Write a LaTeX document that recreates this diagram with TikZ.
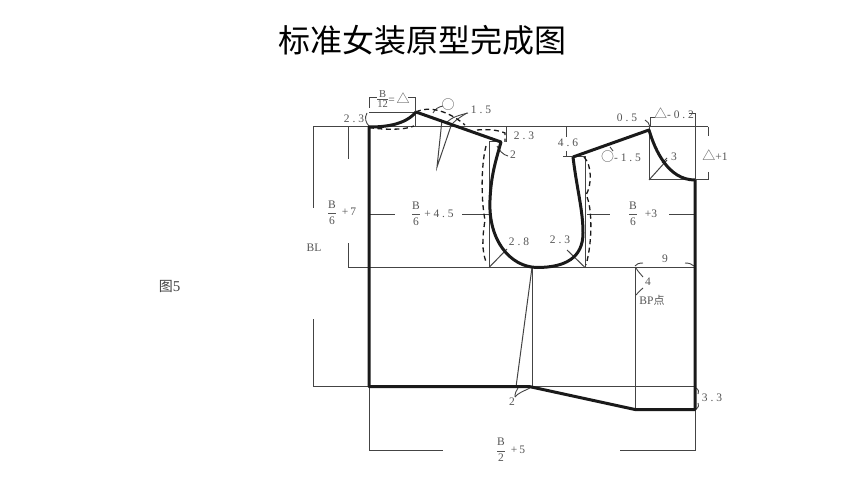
\documentclass[tikz,border=0pt]{standalone}
\usepackage{fontspec}
\setmainfont{Liberation Serif}
\newfontfamily\cjk{Noto Sans CJK SC}
\definecolor{lbl}{HTML}{555555}
\definecolor{thinc}{HTML}{444444}
\definecolor{thick}{HTML}{1A1A1A}
\tikzset{
  thinline/.style={draw=thinc,line width=1pt},
  leader/.style={draw=thinc,line width=0.9pt},
  thickline/.style={draw=thick,line width=3pt,line join=round},
  dashline/.style={draw=thick,line width=1.3pt,dash pattern=on 5pt off 3.5pt},
  lab/.style={text=lbl,font=\fontsize{11.5}{13}\selectfont,inner sep=0pt},
}
\newcommand{\spc}[1]{\addfontfeature{LetterSpace=25}#1}
\newcommand{\symb}[1]{{\cjk\fontsize{13}{14}\selectfont #1}}
\newcommand{\fr}[1]{$\displaystyle\frac{\hbox{\fontsize{11.5}{12}\selectfont B}}{\hbox{\fontsize{11.5}{12}\selectfont #1}}$}
\newcommand{\frs}[1]{$\frac{\hbox{\fontsize{10.5}{11}\selectfont B}}{\hbox{\fontsize{10.5}{11}\selectfont #1}}$}
\begin{document}
\begin{tikzpicture}[x=1pt,y=-1pt]
\useasboundingbox (0,0) rectangle (860,484);
\fill[white] (0,0) rectangle (860,484);
\node[inner sep=0pt,text=black,font=\cjk\fontsize{32}{36}\selectfont] (title) at (422.5,40) {标准女装原型完成图};
\node[inner sep=0pt,text=thinc,font=\fontsize{15}{16}\selectfont] (figno) at (169.5,286) {{\cjk\fontsize{14}{16}\selectfont 图}5};

% thin construction lines
\draw[thinline] (313,126.7) -- (708,126.7);
\draw[thinline] (313,126.7) -- (313,208);
\draw[thinline] (313,319) -- (313,386.7) -- (369,386.7);
\draw[thinline] (348,126.7) -- (348,159);
\draw[thinline] (348,243) -- (348,267.5) -- (695,267.5);
\draw[thinline] (369,386.7) -- (369,450) -- (443,450);
\draw[thinline] (620,450) -- (695,450) -- (695,409.5);
\draw[thinline] (532,386.7) -- (695,386.7);
\draw[thinline] (532,267.5) -- (532,388);
\draw[thinline] (532,267.5) -- (516,387);
\draw[thinline] (635,267.5) -- (635,409.5);
\draw[thinline] (501,142) -- (489,142) -- (489,267.5);
\draw[thinline] (573,157) -- (585,157) -- (585,267.5);
\draw[thinline] (649,127) -- (649,180) -- (708,180);
\draw[thinline] (695,127) -- (695,180);
\draw[thinline] (708,126.7) -- (708,136);
\draw[thinline] (708,172) -- (708,180);
\draw[thinline] (369,112.3) -- (416,112.3);
\draw[thinline] (369,108) -- (369,98) -- (377,98);
\draw[thinline] (408,98) -- (415,98) -- (415,126.7);
\draw[thinline] (506,126.7) -- (506,142);
\draw[thinline] (655,118) -- (650,118) -- (650,127);
\draw[thinline] (689,114) -- (695,114) -- (695,127);
\draw[thinline] (563,157) -- (573,157);
\draw[thinline] (566,127) -- (566,137);
\draw[thinline] (566,151) -- (566,157);
% dimension runs
\draw[thinline] (370,214) -- (395,214);
\draw[thinline] (462,214) -- (489,214);
\draw[thinline] (587,214) -- (610,214);
\draw[thinline] (669,214) -- (695,214);
% dart
\draw[thinline] (442,120) -- (437,167) -- (452,123);
% corner diagonals
\draw[thinline] (649,180) -- (667,160);
\draw[thinline] (489,267.5) -- (507,249);
\draw[thinline] (585,267.5) -- (567,250);

% leaders
\draw[leader] (367,113) .. controls (364,118) and (366,123) .. (369,126);
\draw[leader] (433,113) .. controls (435,109) and (438,107) .. (443,106);
\draw[leader] (447,122) .. controls (452,117) and (460,115) .. (468,113);
\draw[leader] (453,123) .. controls (457,119) and (462,116) .. (467,113);
\draw[leader] (497,146) .. controls (499,150) and (503,155) .. (508,156);
\draw[leader] (645,120) .. controls (648,121) and (649,124) .. (650,127);
\draw[leader] (610,147) -- (613,151);
\draw[leader] (515,397) .. controls (518,393) and (524,391) .. (530,388);
\draw[leader] (515,397) .. controls (515,393) and (516,391) .. (518,388);
\draw[leader] (635,266) .. controls (636,264) and (639,263) .. (643,263);
\draw[leader] (685,263) .. controls (689,263) and (692,264) .. (694,266);
\draw[leader] (636,268) .. controls (638,272) and (641,274) .. (643,277);
\draw[leader] (636,295) .. controls (638,292) and (641,290) .. (643,288);
\draw[leader] (696,388) .. controls (699,390) and (699,392) .. (698,394);
\draw[leader] (696,409) .. controls (699,407) and (699,405) .. (698,403);
\draw[leader] (662,163) -- (667,158);

% dashed curves
\draw[dashline] (369,127.5) .. controls (385,130) and (405,130) .. (414,126);
\draw[dashline] (416,112) .. controls (430,105) and (450,112) .. (465,125);
\draw[dashline] (477,130) .. controls (488,129) and (498,130) .. (505,133) -- (505,142);
\draw[dashline] (486,146) .. controls (481,165) and (481,200) .. (485,220) .. controls (482,240) and (482,250) .. (486,262);
\draw[dashline] (584,157) .. controls (592,165) and (592,185) .. (586,195) .. controls (592,205) and (593,240) .. (586,265);

% thick outline
\draw[thickline] (416,112) .. controls (405,125) and (385,127) .. (369,127) -- (369,386.7) -- (530,386.7) -- (635,409.5) -- (695,409.5) -- (695,180);
\draw[thickline] (416,112) -- (501,142) .. controls (496,160) and (491,175) .. (490,200) .. controls (488,240) and (510,267) .. (537,267.5) .. controls (565,267.5) and (583,258) .. (583,233) .. controls (583,210) and (577,190) .. (573,157);
\draw[thickline] (573,157) -- (649,130) .. controls (655,150) and (668,180) .. (695,180);

% labels
\node[lab] (a1) at (354,119) {\spc{2.3}};
\node[lab] (a2) at (382.5,99) {\frs{12}};
\node[lab] (a3) at (399,98) {=\,\symb{△}};
\node[lab] (a4) at (448,105) {\symb{○}};
\node[lab] (a5) at (481,110) {\spc{1.5}};
\node[lab] (a6) at (524,136) {\spc{2.3}};
\node[lab] (a7) at (513,155) {2};
\node[lab] (a8) at (568,143) {\spc{4.6}};
\node[lab] (a9) at (627,118) {\spc{0.5}};
\node[lab] (a10) at (674,113) {\symb{△}\spc{-0.2}};
\node[lab] (a11) at (674,157) {3};
\node[lab] (a12) at (715,155) {\symb{△}+1};
\node[lab] (a13) at (621,157) {\symb{○}\spc{-1.5}};
\node[lab] (b1) at (332,213) {\fr{6}};
\node[lab] (b2) at (349,212) {+\,7};
\node[lab] (b3) at (416,214) {\fr{6}};
\node[lab] (b4) at (439,214) {\spc{+4.5}};
\node[lab] (b5) at (633,214) {\fr{6}};
\node[lab] (b6) at (651,214) {+3};
\node[lab] (c1) at (314,248) {BL};
\node[lab] (c2) at (519,242) {\spc{2.8}};
\node[lab] (c3) at (560,240) {\spc{2.3}};
\node[lab] (c4) at (665,259) {9};
\node[lab] (c5) at (648,282) {4};
\node[lab] (c6) at (652,300) {BP{\cjk\fontsize{11}{12}\selectfont 点}};
\node[lab] (c7) at (712,398) {\spc{3.3}};
\node[lab] (c8) at (512,402) {2};
\node[lab] (c9) at (501,450) {\fr{2}};
\node[lab] (c10) at (518,450) {+\,5};
\end{tikzpicture}
\end{document}
